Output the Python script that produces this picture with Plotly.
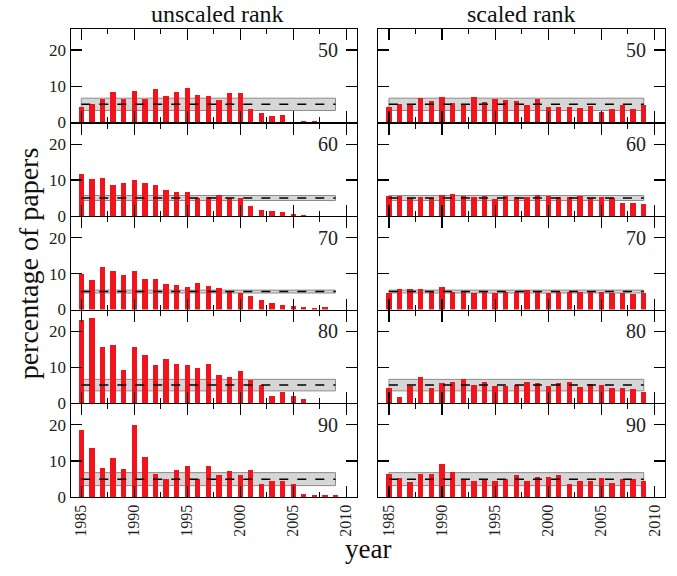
import plotly.graph_objects as go

years = list(range(1985, 2010))

unscaled_50 = [4.4, 5.1, 6.5, 8.5, 6.4, 8.65, 6.6, 9.2, 7.4, 8.3, 9.6, 7.5, 7.2, 6.2, 8.0, 8.0,
               3.7, 2.5, 1.9, 2.0, 0.0, 0.5, 0.5, 0.0, 0.0]
unscaled_60 = [11.8, 10.3, 10.5, 8.5, 9.2, 10.0, 9.2, 8.6, 7.3, 6.7, 6.8, 5.05, 5.2, 5.9, 5.0, 5.1,
               2.8, 1.8, 1.4, 1.1, 0.6, 0.2, 0.0, 0.0, 0.0]
unscaled_70 = [9.8, 8.3, 11.9, 10.6, 9.6, 10.7, 8.5, 8.5, 7.2, 6.7, 6.3, 7.3, 6.6, 6.1, 5.2, 4.7,
               3.8, 2.6, 1.9, 1.4, 0.9, 0.6, 0.5, 0.6, 0.0]
unscaled_80 = [23.1, 23.8, 15.7, 16.1, 9.2, 15.6, 13.5, 10.7, 12.3, 11.0, 10.5, 9.7, 11.0, 7.7, 7.2, 9.0,
               6.5, 5.1, 1.9, 3.1, 2.0, 1.0, 0.0, 0.0, 0.0]
unscaled_90 = [18.6, 13.5, 8.2, 10.9, 7.8, 20.1, 11.2, 6.4, 4.9, 7.6, 8.5, 4.9, 8.7, 6.2, 7.3, 6.2,
               7.6, 3.6, 4.4, 4.4, 3.6, 0.8, 0.6, 0.7, 0.6]

scaled_50 = [4.4, 5.0, 5.0, 6.7, 5.8, 7.1, 5.5, 5.2, 6.9, 5.6, 6.5, 6.3, 5.8, 4.8, 6.5, 4.4,
             4.2, 4.4, 4.0, 4.6, 2.9, 3.8, 4.7, 3.6, 4.7]
scaled_60 = [5.6, 5.5, 5.0, 5.4, 5.0, 5.8, 6.2, 5.5, 5.3, 5.5, 4.8, 5.5, 5.2, 5.3, 5.8, 5.5,
             5.3, 5.2, 5.5, 5.0, 5.2, 5.0, 3.6, 3.6, 3.4]
scaled_70 = [4.7, 5.6, 5.8, 5.8, 5.0, 6.2, 5.0, 4.8, 4.7, 5.0, 4.7, 5.0, 5.0, 5.5, 5.0, 4.7,
             4.8, 4.8, 5.0, 4.8, 4.8, 4.7, 4.7, 4.3, 4.7]
scaled_80 = [4.2, 1.8, 4.7, 7.2, 4.2, 5.6, 5.9, 6.7, 5.1, 5.9, 4.7, 4.7, 4.9, 5.8, 5.6, 4.7,
             5.6, 5.8, 4.4, 5.4, 4.9, 4.2, 4.2, 4.0, 3.2]
scaled_90 = [6.4, 5.3, 4.2, 6.4, 6.4, 9.1, 7.1, 5.1, 4.4, 5.0, 4.4, 5.1, 6.2, 4.4, 5.5, 5.6,
             6.2, 3.7, 4.6, 4.4, 5.3, 4.0, 5.0, 5.1, 4.5]

unscaled = [unscaled_50, unscaled_60, unscaled_70, unscaled_80, unscaled_90]
scaled = [scaled_50, scaled_60, scaled_70, scaled_80, scaled_90]
panel_labels = ["50", "60", "70", "80", "90"]
expected = 5.0
band_half = [1.7, 0.7, 0.4, 1.6, 1.8]
band_start, band_end = 1985, 2009
column_titles = ["unscaled rank", "scaled rank"]
x_ticks = [1985, 1990, 1995, 2000, 2005, 2010]
y_ticks = [0, 10, 20]

W, H = 677, 576
FONT = "Liberation Serif"
BAR = "#f2141c"
LW = 1.2

col_px = [(70.7, 356.7), (378.3, 665.0)]
row_px = [30.0, 125.2, 220.4, 315.6, 410.8, 506.0]


def px_x(p):
    return p / W


def px_y(p):
    return 1 - p / H


fig = go.Figure()
layout = {}
shapes = []
annotations = []

for r in range(5):
    for c in range(2):
        idx = r * 2 + c + 1
        xs = "" if idx == 1 else str(idx)
        data = unscaled[r] if c == 0 else scaled[r]
        fig.add_trace(go.Bar(x=years, y=data, width=0.5, marker=dict(color=BAR, line=dict(width=0)),
                             xaxis="x" + xs, yaxis="y" + xs, showlegend=False, hoverinfo="skip"))
        xd = [px_x(col_px[c][0]), px_x(col_px[c][1])]
        top = row_px[r] + (LW / 2 if r > 0 else 0)
        bot = row_px[r + 1] - (LW / 2 if r < 4 else 0)
        yd = [px_y(bot), px_y(top)]
        layout["xaxis" + xs] = dict(
            domain=xd, anchor="y" + xs, range=[1984, 2011], tickvals=x_ticks,
            ticks="inside", ticklen=11, tickwidth=1.2, tickcolor="black",
            minor=dict(tickvals=[1987.5, 1992.5, 1997.5, 2002.5, 2007.5], ticks="inside",
                       ticklen=5, tickwidth=1.2, tickcolor="black"),
            showline=True, linecolor="black", linewidth=LW, mirror="ticks",
            showgrid=False, zeroline=False, fixedrange=True,
            showticklabels=(r == 4), tickangle=-90,
            tickfont=dict(family=FONT, size=16, color="#222"))
        layout["yaxis" + xs] = dict(
            domain=yd, anchor="x" + xs, range=[0, 25.7], tickvals=y_ticks,
            ticks="inside", ticklen=11, tickwidth=1.2, tickcolor="black",
            showline=True, linecolor="black", linewidth=LW, mirror="ticks",
            showgrid=False, zeroline=False, fixedrange=True,
            showticklabels=(c == 0),
            tickfont=dict(family=FONT, size=17, color="#222"))
        shapes.append(dict(type="rect", xref="x" + xs, yref="y" + xs,
                           x0=band_start, x1=band_end,
                           y0=expected - band_half[r], y1=expected + band_half[r],
                           fillcolor="#d6d6d6", line=dict(color="#8c8c8c", width=1), layer="below"))
        shapes.append(dict(type="line", xref="x" + xs, yref="y" + xs,
                           x0=band_start, x1=band_end, y0=expected, y1=expected,
                           line=dict(color="black", width=1.5, dash="dash"), layer="above"))
        annotations.append(dict(text=panel_labels[r], xref="x" + xs + " domain", yref="y" + xs,
                                x=0.94, y=20, xanchor="right", yanchor="middle", showarrow=False,
                                font=dict(family=FONT, size=20, color="#222")))

for c in range(2):
    annotations.append(dict(text=column_titles[c], xref="paper", yref="paper",
                            x=px_x(sum(col_px[c]) / 2 + (4 if c == 0 else 0)), y=px_y(14),
                            xanchor="center", yanchor="middle", showarrow=False,
                            font=dict(family=FONT, size=24, color="#111")))
annotations.append(dict(text="percentage of papers", xref="paper", yref="paper",
                        x=px_x(28), y=px_y(268), textangle=-90, xanchor="center", yanchor="middle",
                        showarrow=False, font=dict(family=FONT, size=28, color="#111")))
annotations.append(dict(text="year", xref="paper", yref="paper",
                        x=px_x(368), y=px_y(559), xanchor="center", yanchor="middle",
                        showarrow=False, font=dict(family=FONT, size=27, color="#111")))

fig.update_layout(width=W, height=H, margin=dict(l=0, r=0, t=0, b=0),
                  paper_bgcolor="white", plot_bgcolor="white", bargap=0,
                  hovermode=False, dragmode=False,
                  shapes=shapes, annotations=annotations, **layout)

fig.write_html("out.html", config={"displayModeBar": False, "staticPlot": True},
               post_script="document.body.style.margin='0px';document.body.style.overflow='hidden';")
